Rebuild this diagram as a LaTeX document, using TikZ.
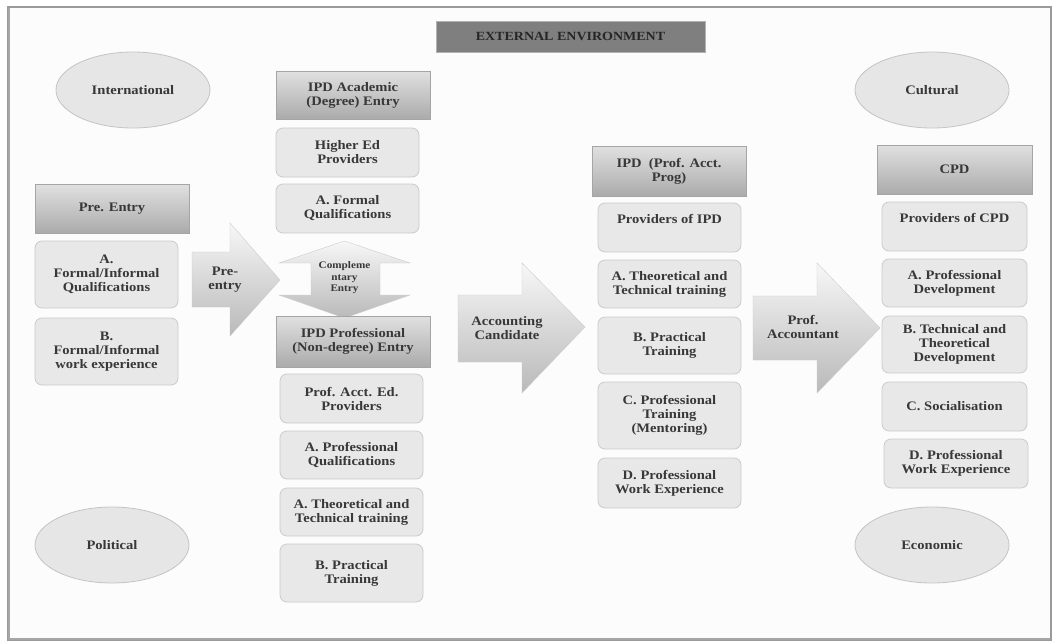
\documentclass[tikz,border=0pt]{standalone}
\usepackage{fontspec}
\setmainfont{Liberation Serif}[FakeStretch=1.12]
\usetikzlibrary{shapes.geometric}
\definecolor{txt}{HTML}{383838}
\definecolor{boxfill}{HTML}{E8E8E8}
\definecolor{boxline}{HTML}{CBCBCB}
\definecolor{hdrline}{HTML}{A5A5A5}
\definecolor{ellfill}{HTML}{E6E6E6}
\definecolor{ellline}{HTML}{C4C4C4}
\definecolor{extfill}{HTML}{7F7F7F}
\definecolor{framecol}{HTML}{9A9A9A}
\definecolor{panel}{HTML}{FCFCFC}
\begin{document}
\begin{tikzpicture}[x=1pt,y=-1pt,
  lbl/.style={font=\fontsize{13}{14}\selectfont\bfseries, text=txt, align=center},
  box/.style={lbl, draw=boxline, fill=boxfill, rounded corners=7pt, minimum width=143pt, inner sep=2pt, line width=0.8pt},
  hdr/.style={lbl, draw=hdrline, top color=gray!24, middle color=gray!8, bottom color=gray!66, minimum width=154pt, inner sep=2pt, line width=0.6pt},
  ell/.style={lbl, ellipse, draw=ellline, fill=ellfill, minimum width=154pt, minimum height=76pt, line width=0.8pt},
  arr/.style={top color=gray!6, bottom color=gray!55, draw=gray!40, line width=0.4pt},
]
\useasboundingbox (0,0) rectangle (1059,643);
% frame
\fill[white] (0,0) rectangle (1059,643);
\draw[framecol, line width=1.2pt, fill=panel] (8,7) rectangle (1051,640);
\draw[gray!70, line width=1.2pt] (9,8) -- (9,639) -- (1050,639);

% external environment
\node[draw=gray!60, fill=extfill, minimum width=269pt, minimum height=31pt, font=\fontsize{12.5}{13}\selectfont\bfseries, text=black!85] (ext) at (570.5,36.5) {EXTERNAL ENVIRONMENT};

% ellipses
\node[ell] (intl) at (133,90) {International};
\node[ell] (cult) at (932,90) {Cultural};
\node[ell] (pol) at (112,545) {Political};
\node[ell] (econ) at (932,545) {Economic};

% pre entry column
\node[hdr, minimum height=49pt] (prehdr) at (112,208.5) {Pre. Entry};
\node[box, minimum height=67pt] (preA) at (106.5,274.5) {A.\\Formal/Informal\\Qualifications};
\node[box, minimum height=67pt] (preB) at (106.5,351.5) {B.\\Formal/Informal\\work experience};

% academic column
\node[hdr, minimum height=48pt] (acadhdr) at (353,95) {IPD Academic\\(Degree) Entry};
\node[box, minimum height=49pt] (higher) at (347.5,152.5) {Higher Ed\\Providers};
\node[box, minimum height=49pt] (formal) at (347.5,208.5) {A. Formal\\Qualifications};

% complementary double arrow
\shade[arr] (344.5,241) -- (410,263) -- (380,263) -- (380,295) -- (410,295) -- (344.5,318)
  -- (279,295) -- (311,295) -- (311,263) -- (279,263) -- cycle;
\node[font=\fontsize{10}{11.5}\selectfont\bfseries, text=txt, align=center] (compl) at (344.5,278) {Compleme\\ntary\\Entry};

% professional column
\node[hdr, minimum height=51pt] (profhdr) at (353,341.5) {IPD Professional\\(Non-degree) Entry};
\node[box, minimum height=49pt] (profacct) at (351.5,398.5) {Prof. Acct. Ed.\\Providers};
\node[box, minimum height=48pt] (profqual) at (351.5,455) {A. Professional\\Qualifications};
\node[box, minimum height=48pt] (theo1) at (351.5,512) {A. Theoretical and\\Technical training};
\node[box, minimum height=58pt] (prac1) at (351.5,573) {B. Practical\\Training};

% IPD column
\node[hdr, minimum height=50pt] (ipdhdr) at (669,171) {IPD~~(Prof. Acct.\\Prog)};
\node[box, minimum height=49pt, text depth=18pt] (provipd) at (669.5,227.5) {Providers of IPD};
\node[box, minimum height=48pt] (theo2) at (669.5,284) {A. Theoretical and\\Technical training};
\node[box, minimum height=57pt] (prac2) at (669.5,345.5) {B. Practical\\Training};
\node[box, minimum height=67pt] (mentor) at (669.5,415.5) {C. Professional\\Training\\(Mentoring)};
\node[box, minimum height=50pt] (work2) at (669.5,483) {D. Professional\\Work Experience};

% CPD column
\node[hdr, minimum height=49pt, minimum width=155pt] (cpdhdr) at (954.5,169.5) {CPD};
\node[box, minimum height=49pt, minimum width=145pt, text depth=18pt] (provcpd) at (954.5,226.5) {Providers of CPD};
\node[box, minimum height=48pt, minimum width=145pt] (profdev) at (954.5,283) {A. Professional\\Development};
\node[box, minimum height=57pt, minimum width=145pt] (techtheo) at (954.5,344.5) {B. Technical and\\Theoretical\\Development};
\node[box, minimum height=49pt, minimum width=145pt] (social) at (954.5,406.5) {C. Socialisation};
\node[box, minimum height=49pt, minimum width=144pt] (work3) at (956,463.5) {D. Professional\\Work Experience};

% block arrows
\shade[arr] (192,252) -- (230,252) -- (230,223) -- (280,280) -- (230,336) -- (230,307) -- (192,307) -- cycle;
\node[lbl] (preentry) at (225,280) {Pre-\\entry};

\shade[arr] (458,295) -- (522,295) -- (522,263) -- (585,327) -- (522,393) -- (522,362) -- (458,362) -- cycle;
\node[lbl] (acccand) at (507,328) {Accounting\\Candidate};

\shade[arr] (753,296) -- (817,296) -- (817,263) -- (880,328) -- (817,393) -- (817,360) -- (753,360) -- cycle;
\node[lbl] (profacc) at (803,327) {Prof.\\Accountant};
\end{tikzpicture}
\end{document}
